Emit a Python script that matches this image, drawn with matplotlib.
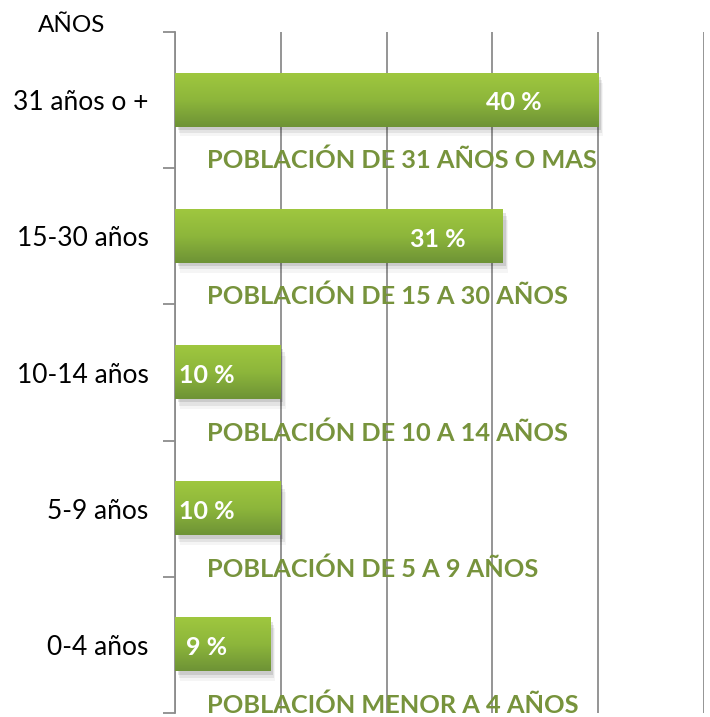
import numpy as np
import matplotlib
matplotlib.use("Agg")
import matplotlib.pyplot as plt
from matplotlib.colors import LinearSegmentedColormap

# data
categorias = ["31 años o +", "15-30 años", "10-14 años", "5-9 años", "0-4 años"]
porcentajes = [40, 31, 10, 10, 9]
etiquetas = ["POBLACIÓN DE 31 AÑOS O MAS",
             "POBLACIÓN DE 15 A 30 AÑOS",
             "POBLACIÓN DE 10 A 14 AÑOS",
             "POBLACIÓN DE 5 A 9 AÑOS",
             "POBLACIÓN MENOR A 4 AÑOS"]

plt.rcParams['font.family'] = ['Lato', 'DejaVu Sans']

fig = plt.figure(figsize=(7.1, 7.17), dpi=100)
ax = fig.add_axes([175/710, 1-713/717, 529/710, 681/717])

y = np.arange(len(categorias))
alto = 0.39

# green gradient (light on top, darker below)
verde = LinearSegmentedColormap.from_list("verde", ["#9fc73f", "#8db63b", "#6e9336"])
grad = np.linspace(0, 1, 100).reshape(-1, 1)

barras = ax.barh(y, porcentajes, height=alto, color="none", zorder=3)
for b in barras:
    x0, y0 = b.get_x(), b.get_y()
    w, h = b.get_width(), b.get_height()
    # soft shadow
    for k, a in enumerate([0.10, 0.07, 0.04]):
        d = 0.008 * (k + 1)
        ax.add_patch(plt.Rectangle((x0 + 0.25 + 0.1 * k, y0 + d * 3), w, h,
                                   color="black", alpha=a, lw=0, zorder=2))
    ax.imshow(grad, cmap=verde, aspect="auto", extent=(x0, x0 + w, y0 + h, y0),
              zorder=4, interpolation="bilinear")

ax.set_xlim(0, 50)
ax.set_ylim(len(categorias) - 0.5, -0.5)

# value labels
for yi, v in zip(y, porcentajes):
    xp = v * 0.8 if v > 20 else 3.0
    ax.text(xp, yi + 0.02, f"{v} %", color="white", fontsize=18, fontweight="bold",
            ha="center", va="center", zorder=5)

# green descriptive labels
for yi, t in zip(y, etiquetas):
    ax.text(3.0, yi + 0.5, t, color="#77933c", fontsize=18.3, fontweight="bold",
            ha="left", va="baseline", zorder=5)

ax.set_xticks(np.arange(0, 51, 10))
ax.xaxis.grid(True, color="#8c8c8c", lw=1.3)
ax.tick_params(axis="x", length=0, labelbottom=False)
ax.set_axisbelow(True)

ax.set_yticks(y)
ax.set_yticklabels(categorias, fontsize=19)
ax.tick_params(axis="y", length=0, pad=19)
ax.set_yticks(np.arange(-0.5, len(categorias), 1), minor=True)
ax.tick_params(axis="y", which="minor", length=9, color="#8c8c8c", width=1.3)

for s in ["top", "right", "bottom"]:
    ax.spines[s].set_visible(False)
ax.spines["left"].set_color("#8c8c8c")
ax.spines["left"].set_linewidth(1.3)

fig.text(72/710, 1-25/717, "AÑOS", fontsize=17.5, ha="center", va="center")

fig.savefig("out.png", dpi=100)
